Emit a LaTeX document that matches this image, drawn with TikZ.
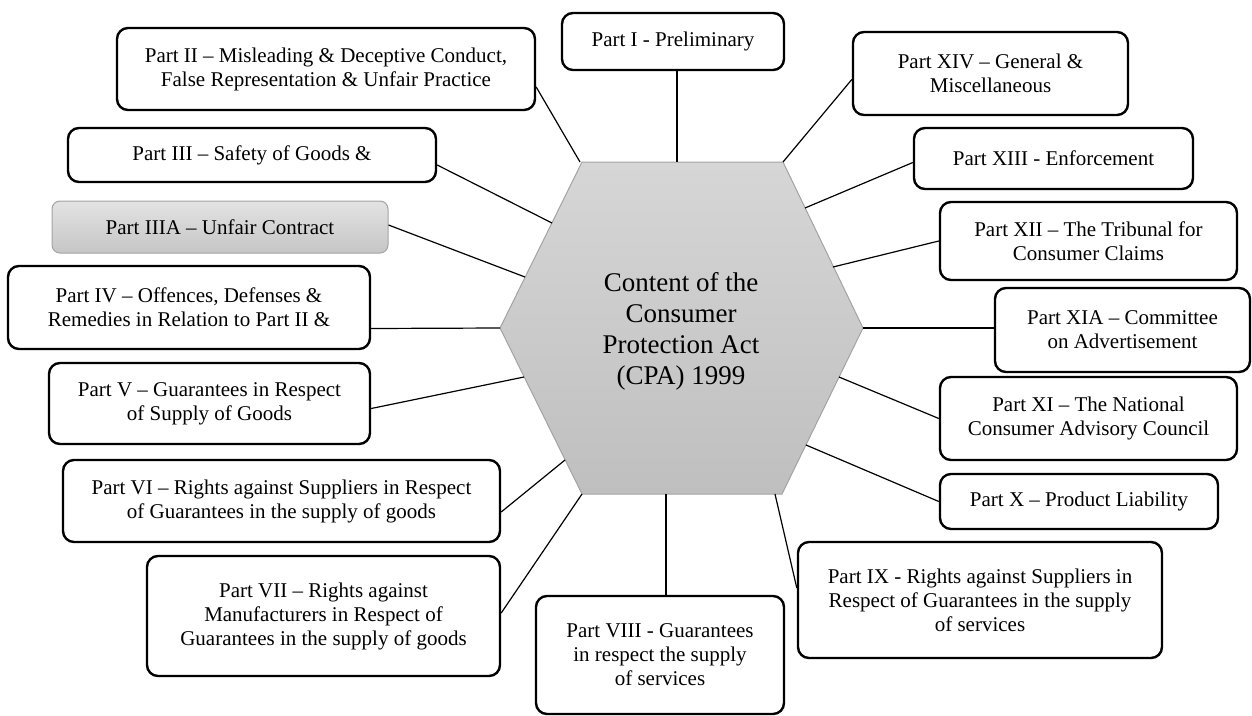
\documentclass[tikz,border=0pt]{standalone}
\usepackage{fontspec}
\setmainfont{Liberation Serif}
\usepackage{xcolor}
\definecolor{hextop}{HTML}{D6D6D6}
\definecolor{hexbot}{HTML}{BFBFBF}
\definecolor{hexline}{HTML}{A3A3A3}

\begin{document}
\begin{tikzpicture}[x=1pt,y=-1pt,
  part/.style={draw,fill=white,line width=2.4pt,rounded corners=11pt,
    align=center,inner sep=0pt,font=\fontsize{21}{24}\selectfont},
  link/.style={line width=1.2pt}]
\useasboundingbox (0,0) rectangle (1252,715);
\path[draw=hexline,line width=1pt,top color=hextop,bottom color=hexbot]
  (582,162) -- (783,162) -- (863,328) -- (782,494) -- (582,494) -- (500,328) -- cycle;
\node [align=center,font=\fontsize{27}{31}\selectfont] (cpa) at (681,331)
  {Content of the\\Consumer\\Protection Act\\(CPA) 1999};
\path
  (677,162) coordinate (hI)    (580,162) coordinate (hII)
  (783,162) coordinate (hXIV)  (552,223) coordinate (hIII)
  (805,208) coordinate (hXIII) (525,277) coordinate (hIIIA)
  (833,267) coordinate (hXII)  (500,328) coordinate (hIV)
  (863,328) coordinate (hXIA)  (524,377) coordinate (hV)
  (839,377) coordinate (hXI)   (565,460) coordinate (hVI)
  (806,445) coordinate (hX)    (582,494) coordinate (hVII)
  (666,494) coordinate (hVIII) (775,494) coordinate (hIX);
\path
  (673,41.5) node [part,minimum width=222pt,minimum height=57pt] (pI)
    {Part I - Preliminary}
  (326,69) node [part,minimum width=418pt,minimum height=82pt] (pII)
    {Part II -- Misleading \& Deceptive Conduct,\\False Representation \& Unfair Practice}
  (990.5,73.5) node [part,minimum width=275pt,minimum height=83pt] (pXIV)
    {Part XIV -- General \&\\Miscellaneous}
  (252,155) node [part,minimum width=368pt,minimum height=54pt] (pIII)
    {Part III -- Safety of Goods \&}
  (1053.5,158.5) node [part,minimum width=279pt,minimum height=61pt] (pXIII)
    {Part XIII - Enforcement}
  (220,227) node [part,draw=hexline,line width=1pt,rounded corners=8pt,
    top color=gray!22,bottom color=gray!45,minimum width=336pt,
    minimum height=52pt] (pIIIA) {Part IIIA -- Unfair Contract}
  (1088.5,241) node [part,minimum width=297pt,minimum height=78pt] (pXII)
    {Part XII -- The Tribunal for\\Consumer Claims}
  (189,307.5) node [part,minimum width=362pt,minimum height=83pt] (pIV)
    {Part IV -- Offences, Defenses \&\\Remedies in Relation to Part II \&}
  (1122.5,330) node [part,minimum width=255pt,minimum height=84pt] (pXIA)
    {Part XIA -- Committee\\on Advertisement}
  (209.5,403.5) node [part,minimum width=321pt,minimum height=81pt] (pV)
    {Part V -- Guarantees in Respect\\of Supply of Goods}
  (1088.5,418.5) node [part,minimum width=297pt,minimum height=83pt] (pXI)
    {Part XI -- The National\\Consumer Advisory Council}
  (281.5,501) node [part,minimum width=437pt,minimum height=82pt] (pVI)
    {Part VI -- Rights against Suppliers in Respect\\of Guarantees in the supply of goods}
  (1079,501.5) node [part,minimum width=278pt,minimum height=55pt] (pX)
    {Part X -- Product Liability}
  (323.5,616) node [part,minimum width=353pt,minimum height=120pt] (pVII)
    {Part VII -- Rights against\\Manufacturers in Respect of\\Guarantees in the supply of goods}
  (660,655) node [part,minimum width=248pt,minimum height=118pt] (pVIII)
    {Part VIII - Guarantees\\in respect the supply\\of services}
  (980,600) node [part,minimum width=364pt,minimum height=116pt] (pIX)
    {Part IX - Rights against Suppliers in\\Respect of Guarantees in the supply\\of services};
\draw [link] ([xshift=4pt]pI.south) -- (hI);
\draw [link] ([yshift=-18pt]pII.east) -- (hII);
\draw [link] ([yshift=-6pt]pXIV.west) -- (hXIV);
\draw [link] ([yshift=-10pt]pIII.east) -- (hIII);
\draw [link] ([yshift=-4pt]pXIII.west) -- (hXIII);
\draw [link] ([yshift=2pt]pIIIA.east) -- (hIIIA);
\draw [link] (pXII.west) -- (hXII);
\draw [link] ([yshift=-21pt]pIV.east) -- (hIV);
\draw [link] ([yshift=2pt]pXIA.west) -- (hXIA);
\draw [link] ([yshift=-5pt]pV.east) -- (hV);
\draw [link] (pXI.west) -- (hXI);
\draw [link] ([yshift=-11pt]pVI.east) -- (hVI);
\draw [link] (pX.west) -- (hX);
\draw [link] ([yshift=3pt]pVII.east) -- (hVII);
\draw [link] ([xshift=6pt]pVIII.north) -- (hVIII);
\draw [link] ([yshift=12pt]pIX.west) -- (hIX);
\end{tikzpicture}
\end{document}
